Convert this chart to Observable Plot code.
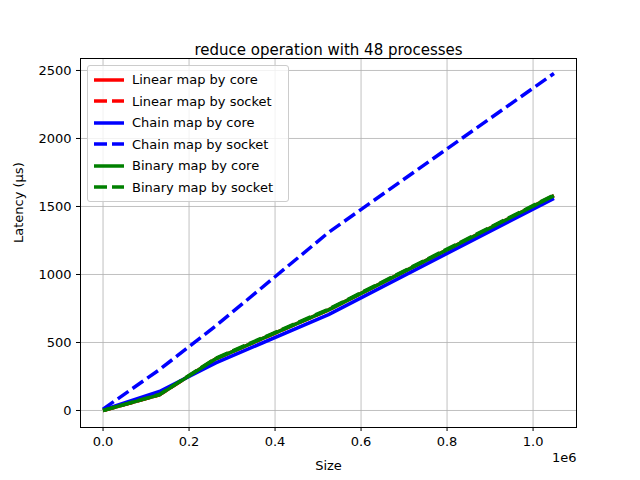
<!DOCTYPE html>
<html><head><meta charset="utf-8">
<script src="https://cdn.jsdelivr.net/npm/d3@7"></script>
<script src="https://cdn.jsdelivr.net/npm/@observablehq/plot@0.6"></script>
<style>
body{margin:0;font-family:"DejaVu Sans";}
#wrap{position:relative;width:640px;height:480px;}
#legend{position:absolute;left:87px;top:65px;width:200px;background:rgba(255,255,255,0.8);border:1px solid #ccc;border-radius:3px;font-size:13px;padding:3px 0;}
#legend div{display:flex;align-items:center;height:21.5px;}
#legend svg{margin:0 8px 0 6px;}
</style></head><body>
<div id="wrap"><div id="chart"></div><div id="legend"></div></div>
<script>
const sizes = [0, 131072, 262144, 524288, 1048576];
const linearCore = [0, 115, 380, 740, 1580];
const linearSocket = [0, 115, 380, 740, 1580];
const chainCore = [5, 140, 350, 705, 1560];
const chainSocket = [10, 300, 622, 1309, 2478];
const binaryCore = [0, 115, 380, 740, 1580];
const binarySocket = [0, 118, 385, 745, 1585];
const seriesNames = ["Linear map by core","Linear map by socket","Chain map by core","Chain map by socket","Binary map by core","Binary map by socket"];
const seriesVals = [linearCore, linearSocket, chainCore, chainSocket, binaryCore, binarySocket];
const colors = ["red","red","blue","blue","green","green"];
const dashed = [false,true,false,true,false,true];
const xTicks = [0,200000,400000,600000,800000,1000000];
const yTicks = [0,500,1000,1500,2000,2500];

const marks = [
  Plot.gridX(xTicks,{stroke:"#b0b0b0",strokeOpacity:1,strokeWidth:0.8}),
  Plot.gridY(yTicks,{stroke:"#b0b0b0",strokeOpacity:1,strokeWidth:0.8}),
  Plot.frame({stroke:"black"}),
  Plot.axisX(xTicks,{tickFormat:d=>(d/1e6).toFixed(1),fontSize:13,tickSize:4,label:null}),
  Plot.axisY(yTicks,{tickFormat:d=>String(d),fontSize:13,tickSize:4,label:null}),
  Plot.text(["Size"],{frameAnchor:"bottom",dy:42,fontSize:13}),
  Plot.text(["Latency (μs)"],{frameAnchor:"left",dx:-62,rotate:-90,fontSize:13}),
  Plot.text(["1e6"],{frameAnchor:"bottom-right",dy:34,fontSize:13,textAnchor:"end"}),
  Plot.text(["reduce operation with 48 processes"],{frameAnchor:"top",dy:-14,fontSize:15})
];
seriesVals.forEach((vals,i)=>{
  const data = sizes.map((s,j)=>({x:s,y:vals[j]}));
  marks.push(Plot.line(data,{x:"x",y:"y",stroke:colors[i],strokeWidth:3.5,strokeDasharray:dashed[i]?"13,5":null,strokeLinecap:"butt"}));
});
const chart = Plot.plot({
  width:640,height:480,marginLeft:80,marginRight:64,marginTop:58,marginBottom:53,
  style:{fontFamily:"DejaVu Sans",fontSize:"13px",color:"black"},
  x:{domain:[-52429,1101005]},
  y:{domain:[-125,2588]},
  marks
});
document.getElementById("chart").appendChild(chart);
const leg = document.getElementById("legend");
seriesNames.forEach((n,i)=>{
  const d = document.createElement("div");
  d.innerHTML = `<svg width="30" height="10"><line x1="0" y1="5" x2="30" y2="5" stroke="${colors[i]}" stroke-width="3.5" ${dashed[i]?'stroke-dasharray="13,5"':''}/></svg>${n}`;
  leg.appendChild(d);
});
</script></body></html>
